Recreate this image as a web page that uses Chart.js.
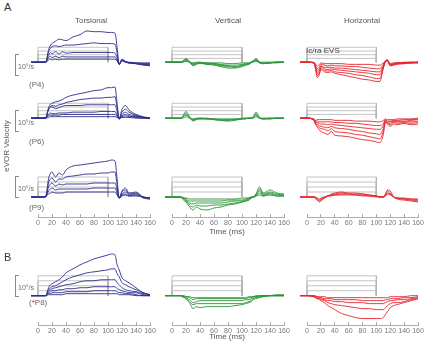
<!DOCTYPE html>
<html>
<head>
<meta charset="utf-8">
<script src="https://cdn.jsdelivr.net/npm/chart.js@4.4.0/dist/chart.umd.min.js"></script>
<style>
body { margin: 0; background: #fff; }
#fig { position: relative; width: 426px; height: 346px; overflow: hidden; font-family: "Liberation Sans", Arial, sans-serif; color: #555; }
#fig canvas { position: absolute; }
.t { position: absolute; white-space: nowrap; line-height: 1; }
.panel-letter { font-size: 11px; color: #333; }
.col-title { font-size: 8px; transform: translate(-50%, -50%); }
.pname { font-size: 8px; color: #666; transform: translateY(-50%); }
.sb-text { font-size: 7px; color: #666; transform: translateY(-50%); }
.sb { position: absolute; width: 3px; border: 1px solid #888; border-right: none; }
.xlab { font-size: 8px; transform: translate(-50%, -50%); }
</style>
</head>
<body>
<div id="fig"></div>
<script>
// time samples (ms), shared by every trace
var T = [-10, 0, 10, 12, 15, 18, 20, 25, 30, 35, 40, 50, 60, 70, 80, 90, 100, 105, 110, 113, 116, 120, 125, 130, 140, 150, 160];
// stimulus window and current steps drawn as the grey boxes
var stimOn = 0, stimOff = 100;
var stimLevels = [2.5, 5, 7.5, 10];
var xTicks = [0, 20, 40, 60, 80, 100, 120, 140, 160];

// eye velocity traces, deg/s
var torsP4 = [
  [0,0,0,1,8,11.5,12.5,14,15.5,15,14.5,17,18.5,21,20.5,20.5,20,20,19.5,10,-1.5,2,0.5,-0.5,-1,-2,-2.5],
  [0,0,0,1,7,9.5,10.5,11,10.5,11,11.5,11.5,12,12.5,13,12.5,12.5,12.5,12,6,-1.5,1.5,0.5,-0.5,-1,-1.5,-2],
  [0,0,0,0.5,4.5,6.5,5.5,7,5.5,7,6,6.5,6.5,6.5,6.5,6.5,6.5,6.5,6,3,-1.5,1.5,0,-0.5,-1,-1.5,-1.5],
  [0,0,0,0.5,3,4,3,4,3,4,3.5,3.5,3.5,3.5,3.5,3.5,3.5,3.5,3.5,1.5,-1.5,1,0,-0.5,-0.5,-1,-1],
  [0,0,0,0,1.5,2,1.5,2,1.5,2,2,2,2,2,2,2,2,2,2,1,-1,1,0,0,-0.5,-0.5,-0.5]
];
var torsP6 = [
  [0,0,0,1.5,7,9.5,10,11,11.5,12.5,14,15.5,16.5,17.5,18.5,19,20.5,20.5,21,10,-0.5,6,8.5,5.5,2.5,1,0],
  [0,0,0,1,6,8,8.5,8,9,9.5,10.5,11.5,12.5,13,13.5,13.5,14,14,14.5,7,-0.5,4,6,4,2,0.5,0],
  [0,0,0,1,5.5,7.5,7.5,6.5,7,8,8.5,8.5,8.5,9,9,9,9,9,9,4.5,-0.5,2.5,4,2.5,1.5,0.5,0],
  [0,0,0,0.5,2.5,3.5,3,3,3.5,3.5,3.5,4,4,4,4,4.5,4.5,4.5,4.5,2,-0.5,1.5,2.5,1.5,1,0.5,0],
  [0,0,0,0.5,1.5,2,2,2,2,2.5,2.5,2.5,2.5,2.5,2.5,2.5,2.5,2.5,2.5,1,-0.5,1,1.5,1,0.5,0,0],
  [0,0,0,0,0.5,1,1,1,1,1,1,1,1,1,1,1,1,1,1,0.5,0,0.5,0.5,0.5,0,0,0]
];
var torsP9 = [
  [0,0,0,1.5,9,12,12.5,10,12,11,13.5,15.5,16,16.5,17,17.5,18,18.5,18,9,-0.5,3,4.5,2,2.5,0,-1],
  [0,0,0,1,7,9,9.5,7.5,9,9,10,10.5,11,11.5,11.5,12,12,12.5,12.5,6,-0.5,2.5,3.5,1.5,2,-0.5,-1],
  [0,0,0,1,5,6.5,7,5.5,6.5,6,6.5,6.5,6.5,6.5,7,7,7,7,7,3.5,-0.5,1.5,2.5,1,1.5,0,-0.5],
  [0,0,0,0.5,3,4,4.5,3.5,4,4,4,4,4,4,4.5,4.5,4.5,4.5,4.5,2,-0.5,1,1.5,0.5,1,0,-0.5],
  [0,0,0,0.5,1.5,2,2.5,2,2,2,2.5,2.5,2.5,2.5,2.5,2.5,2.5,2.5,2.5,1,-0.5,0.5,1,0.5,0.5,0,-0.5]
];
var torsP8 = [
  [0,0,0,0.5,4,5.5,6,7,8,9.5,11.5,13.5,15.5,17,18.5,19.5,20.5,21,20.5,15.5,13,9,7.5,6.5,4,1.5,0.5],
  [0,0,0,0.5,3,4,4.5,5,6,7,8,9.5,10.5,11.5,12,12.5,13,13.5,13.5,11,9.5,6.5,5.5,4.5,3,1.5,0.5],
  [0,0,0,0.5,2.5,3,3.5,4,4.5,5,5.5,6,7,7.5,7.5,8,8,8,8,6.5,5.5,4,3,2.5,2,1,0.5],
  [0,0,0,0.5,1.5,2,2.5,2.5,3,3,3.5,3.5,4,4,4.5,4.5,4.5,4.5,4.5,3.5,3,2.5,2,1.5,1.5,0.5,0],
  [0,0,0,0,1,1,1.5,1.5,1.5,1.5,2,2,2,2,2.5,2.5,2.5,2.5,2.5,2,1.5,1.5,1,1,0.5,0,0],
  [0,0,0,0,0.5,0.5,0.5,0.5,0.5,0.5,1,1,1,1,1,1,1,1,1,1,0.5,0.5,0.5,0.5,0,0,0]
];
var vertP4 = [
  [0,0,0,0,0.5,2,2.5,0.5,-2.5,-1.5,-0.5,-1.5,-1,-2,-2.5,-3,-2,-1.5,-1,0,1,2.5,0,-1,-0.5,0,0],
  [0,0,0,0,0.5,1.5,2,0,-2,-1,-1,-1,-1.5,-2.5,-3,-3.5,-2.5,-2,-1,0,0.5,2,-0.5,-1,-0.5,0,0],
  [0,0,0,0,0.5,1,1.5,0,-1.5,-1,-0.5,-1.5,-2,-3,-4,-4,-3,-2,-1.5,-0.5,0.5,1.5,-0.5,-1,-0.5,-0.5,0],
  [0,0,0,0,0,0.5,1,0,-1,-0.5,-0.5,-0.5,-1,-1.5,-2,-2,-1.5,-1,-1,0,0.5,1,0,-0.5,-0.5,0,0],
  [0,0,0,0,0,0.5,0.5,0,-0.5,0,0,-0.5,-0.5,-0.5,-1,-1,-0.5,-0.5,-0.5,0,0,0.5,0,0,0,0,0]
];
var vertP6 = [
  [0,0,0,0,1,3.5,4.5,1,-2,-1,-0.5,-0.5,-1,-1.5,-1.5,-1,-0.5,-0.5,0,0,1,4,0.5,-0.5,-0.5,0,0],
  [0,0,0,0,0.5,2.5,3,0.5,-1.5,-0.5,-0.5,-0.5,-1,-1.5,-2,-1.5,-0.5,-0.5,0,0,0.5,3,0,-0.5,-0.5,0,0],
  [0,0,0,0,0.5,1.5,2,0.5,-1,-0.5,0,-0.5,-0.5,-1,-1,-1,-0.5,0,0,0,0.5,2,0,-0.5,0,0,0],
  [0,0,0,0,0,0.5,1,0,-0.5,0,0,0,-0.5,-0.5,-0.5,-0.5,0,0,0,0,0,1,0,0,0,0,0]
];
var vertP9 = [
  [0,0,0,0,-1,-2,-2.5,-5,-6.5,-5,-6,-6.5,-5.5,-5,-4,-3.5,-2.5,-2,-1.5,-0.5,0,1.5,5,2,3.5,2,1.5],
  [0,0,0,0,-0.5,-1.5,-2,-4,-5,-4,-4.5,-4.5,-4,-4,-3.5,-3,-2.5,-2,-1.5,-0.5,0,1,4,1.5,2.5,1.5,1],
  [0,0,0,0,-0.5,-1,-1.5,-3,-3.5,-3,-3,-3,-3,-3,-2.5,-2,-2,-1.5,-1,-0.5,0,1,3,1,2,1,1],
  [0,0,0,0,-0.5,-0.5,-1,-2,-2,-2,-2,-2,-2,-2,-1.5,-1.5,-1.5,-1,-0.5,0,0,0.5,2,0.5,1.5,0.5,0.5],
  [0,0,0,0,0,-0.5,-0.5,-1,-1,-1,-1,-1,-1,-1,-1,-1,-0.5,-0.5,-0.5,0,0,0.5,1,0.5,1,0.5,0.5]
];
var vertP8 = [
  [0,0,0,0,-0.5,-1,-1.5,-3.5,-6.5,-5.5,-6,-5.5,-5.5,-5.5,-5.5,-5,-4.5,-4,-3.5,-3,-2,-1.5,-1,-0.5,0,0.5,0.5],
  [0,0,0,0,-0.5,-1,-1.5,-3,-4.5,-4,-4,-4,-4,-4,-4,-4,-4,-3.5,-3,-2.5,-1.5,-1,-0.5,-0.5,0,0,0],
  [0,0,0,0,-0.5,-0.5,-1,-2,-3.5,-3,-2.5,-2.5,-2.5,-2.5,-2.5,-2.5,-2.5,-2,-2,-1.5,-1,-0.5,-0.5,0,0,0,0],
  [0,0,0,0,0,-0.5,-0.5,-1,-2,-1.5,-1.5,-1.5,-1.5,-1.5,-1.5,-1.5,-1.5,-1.5,-1,-1,-0.5,-0.5,0,0,0,0,0],
  [0,0,0,0,0,0,-0.5,-0.5,-1,-1,-1,-1,-1,-1,-1,-1,-1,-1,-0.5,-0.5,-0.5,0,0,0,0,0,0]
];
var horzP4 = [
  [0,0,-0.5,-4,-10.5,-8,-5,-6.5,-7,-6.5,-7.5,-8.5,-9.5,-10.5,-11.5,-12,-13,-13,-4,0.5,1.5,-2.5,-2,-1.5,-1,-0.5,-0.5],
  [0,0,-0.5,-3.5,-9,-7,-4,-5.5,-6,-5.5,-6.5,-7,-7.5,-8.5,-9,-10,-11,-11,-4,0.5,1.5,-2.5,-1.5,-1,-1,-0.5,-0.5],
  [0,0,-0.5,-3,-7.5,-5.5,-3,-4.5,-5,-4.5,-5,-5.5,-6,-6.5,-7,-7.5,-8.5,-8.5,-3,0.5,1,-2,-1.5,-1,-0.5,-0.5,0],
  [0,0,-0.5,-2.5,-6,-4.5,-2.5,-3.5,-3.5,-3.5,-4,-4,-4.5,-5,-5.5,-6,-6.5,-6.5,-2.5,0.5,1,-2,-1,-0.5,-0.5,-0.5,0],
  [0,0,-0.5,-2,-4.5,-3,-1.5,-2,-2.5,-2,-2.5,-2.5,-3,-3,-3.5,-4,-4.5,-4.5,-1.5,0.5,1,-1.5,-1,-0.5,-0.5,0,0],
  [0,0,0,-1,-2.5,-1.5,-0.5,-1,-1,-1,-1,-1,-1.5,-1.5,-1.5,-1.5,-2,-2,-0.5,0.5,1,-1,-0.5,-0.5,0,0,0]
];
var horzP6 = [
  [0,0,-1.5,-4,-6,-8,-9,-10,-11,-9,-11.5,-12,-12.5,-13.5,-14.5,-15,-16,-16.5,-11,-3,-4,-5.5,-4,-4.5,-3.5,-4.5,-4],
  [0,0,-1.5,-3.5,-5,-6.5,-7,-7.5,-8.5,-7,-9,-9.5,-10,-11,-11.5,-12.5,-13.5,-14,-9,-2.5,-3.5,-4.5,-3,-3.5,-3,-3.5,-3],
  [0,0,-1,-3,-4,-5,-5.5,-6,-6.5,-5.5,-6.5,-7,-7.5,-8.5,-9,-10,-10.5,-11,-7,-2,-3,-3.5,-2.5,-2.5,-2.5,-2.5,-2],
  [0,0,-1,-2.5,-3,-3.5,-4,-4,-4.5,-4,-4.5,-5,-5.5,-6,-6.5,-7,-7.5,-7.5,-5,-1.5,-2.5,-2.5,-2,-2,-2,-1.5,-1],
  [0,0,-1,-2,-2,-2.5,-2.5,-2.5,-2.5,-2.5,-3,-3,-3.5,-3.5,-4,-4.5,-5,-5,-3.5,-1,-2,-2,-1.5,-1.5,-1,-1,-0.5],
  [0,0,-0.5,-1.5,-1,-1,-1,-1,-1,-1,-1.5,-1.5,-1.5,-2,-2,-2,-2.5,-2.5,-1.5,-0.5,-1,-1,-1,-0.5,-0.5,-0.5,0]
];
var horzP9 = [
  [0,0,0,-0.5,-1.5,-2.5,-2,-0.5,0.5,1.5,2,2.5,2,2,1.5,1,0.5,0,0,1.5,3.5,3,0,-1,-1.5,-2,-2.5],
  [0,0,0,-0.5,-1.5,-2,-1.5,-0.5,0.5,1,1.5,2,1.5,1.5,1.5,1,0.5,0,0,1,3,2,0,-0.5,-1,-1.5,-2],
  [0,0,0,-0.5,-1,-1.5,-1,0,0.5,1,1,1.5,1.5,1,1,0.5,0.5,0,0,0.5,2,1.5,0,-0.5,-1,-1,-1.5],
  [0,0,0,0,-0.5,-1,-0.5,0,0.5,0.5,1,1,1,1,0.5,0.5,0,0,0,0.5,1.5,1,0,-0.5,-0.5,-1,-1]
];
var horzP8 = [
  [0,0,-0.5,-1,-1.5,-2,-2.5,-3.5,-5,-6,-7,-9,-10,-11,-11.5,-11.5,-11.5,-11.5,-11,-9.5,-8,-6,-5,-4.5,-3.5,-2.5,-1.5],
  [0,0,-0.5,-1,-1.5,-1.5,-2,-2.5,-3.5,-4,-4.5,-5,-5.5,-6,-6.5,-6.5,-7,-7,-7,-6,-5,-4,-3.5,-3.5,-3,-2,-1.5],
  [0,0,-0.5,-0.5,-1,-1,-1.5,-2,-2.5,-2.5,-3,-3,-3.5,-3.5,-3.5,-4,-4,-4,-4,-3.5,-3,-2.5,-2.5,-2,-2,-1.5,-1],
  [0,0,0,-0.5,-0.5,-1,-1,-1.5,-1.5,-1.5,-2,-2,-2,-2,-2.5,-2.5,-2.5,-2.5,-2.5,-2,-2,-1.5,-1.5,-1.5,-1,-1,-0.5],
  [0,0,0,0,-0.5,-0.5,-0.5,-0.5,-1,-1,-1,-1,-1,-1,-1,-1,-1,-1,-1,-1,-1,-0.5,-0.5,-0.5,-0.5,0,0]
];

var panelData = [
  [torsP4, vertP4, horzP4],
  [torsP6, vertP6, horzP6],
  [torsP9, vertP9, horzP9],
  [torsP8, vertP8, horzP8]
];
var colNames = ['Torsional', 'Vertical', 'Horizontal'];
var rowNames = ['(P4)', '(P6)', '(P9)', '(<span style="color:#e3262c">*</span>P8)'];

// layout (pixels)
var colX = [[38, 150], [172, 284], [307, 418]];
var rowBase = [75, 130.5, 197, 295.5];
var rowAxis = [null, null, 217, 325];
var lineColors = ['#2e2e8c', '#2a9438', '#e3262c'];
var PX = 2;        // px per deg/s
var AXIS_H = 18;
var PAD = 12;

var fig = document.getElementById('fig');

function addText(html, cls, x, y, extra) {
  var d = document.createElement('div');
  d.className = 't ' + cls;
  d.innerHTML = html;
  d.style.left = x + 'px';
  d.style.top = y + 'px';
  if (extra) d.style.cssText += extra;
  fig.appendChild(d);
  return d;
}

function stimBox(h) {
  return [{x: stimOn, y: 0}, {x: stimOn, y: h}, {x: stimOff, y: h}, {x: stimOff, y: 0}];
}

function makePanel(r, c) {
  var x0 = colX[c][0], x1 = colX[c][1];
  var base = rowBase[r];
  var top = base - 50;
  var bottom = rowAxis[r] !== null ? rowAxis[r] : base + 20;
  var showAxis = rowAxis[r] !== null;
  var cv = document.createElement('canvas');
  var w = x1 - x0 + 2 * PAD;
  var h = bottom - top + (showAxis ? AXIS_H : 0);
  cv.width = w; cv.height = h;
  cv.style.left = (x0 - PAD) + 'px';
  cv.style.top = top + 'px';
  cv.style.width = w + 'px'; cv.style.height = h + 'px';
  fig.appendChild(cv);

  var datasets = [];
  panelData[r][c].forEach(function(tr) {
    datasets.push({
      data: T.map(function(t, i) { return {x: t, y: tr[i]}; }),
      borderColor: lineColors[c], borderWidth: 0.9,
      pointRadius: 0, cubicInterpolationMode: 'monotone', clip: false
    });
  });
  stimLevels.forEach(function(lv) {
    datasets.push({
      data: stimBox(lv), borderColor: '#b4b4b4', borderWidth: 0.8,
      pointRadius: 0, tension: 0, clip: false
    });
  });

  new Chart(cv, {
    type: 'line',
    data: {datasets: datasets},
    options: {
      responsive: false, animation: false, devicePixelRatio: 1,
      layout: {padding: {left: PAD, right: PAD, top: 0, bottom: 0}},
      plugins: {legend: {display: false}, tooltip: {enabled: false}},
      scales: {
        x: {
          type: 'linear', min: 0, max: 160, display: showAxis,
          afterFit: function(s) { s.height = AXIS_H; },
          afterBuildTicks: function(s) { s.ticks = xTicks.map(function(v) { return {value: v}; }); },
          grid: {drawOnChartArea: false, drawTicks: true, tickLength: -3, color: '#999', lineWidth: 0.8},
          border: {color: '#999', width: 0.8},
          ticks: {padding: 5, color: '#777', font: {family: 'Liberation Sans', size: 7}, maxRotation: 0, autoSkip: false}
        },
        y: {
          type: 'linear', display: false,
          min: -(bottom - base) / PX, max: (base - top) / PX
        }
      }
    }
  });
}

for (var r = 0; r < 4; r++) {
  for (var c = 0; c < 3; c++) makePanel(r, c);
}

// labels
addText('A', 'panel-letter', 4, 2);
addText('B', 'panel-letter', 4, 252);
var titleX = [91, 228, 362];
colNames.forEach(function(n, i) { addText(n, 'col-title', titleX[i], 21); });
addText('Ic/ra EVS', 'pname', 306, 51, 'color:#444;');

var pY = [85, 142, 208, 303];
rowNames.forEach(function(n, i) { addText(n, 'pname', 29, pY[i]); });

// 10 deg/s scale bars
rowBase.forEach(function(b) {
  var bar = document.createElement('div');
  bar.className = 'sb';
  bar.style.left = '15px';
  bar.style.top = (b - 10 * PX - 1) + 'px';
  bar.style.height = (10 * PX) + 'px';
  fig.appendChild(bar);
  addText('10\u00b0/s', 'sb-text', 18, b - 9);
});

addText('eVOR Velocity', 'xlab', 7, 146, 'transform:translate(-50%,-50%) rotate(-90deg);');
addText('Time (ms)', 'xlab', 227, 232);
addText('Time (ms)', 'xlab', 227, 337);
</script>
</body>
</html>
